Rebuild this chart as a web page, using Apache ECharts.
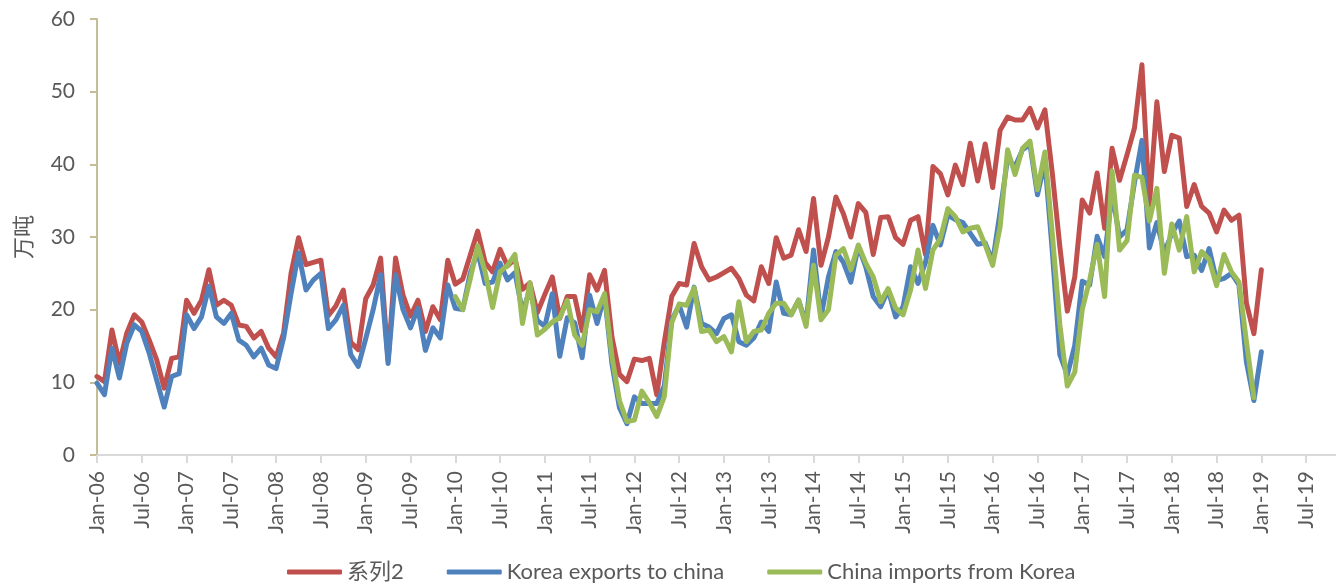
<!DOCTYPE html>
<html>
<head>
<meta charset="utf-8">
<script src="https://cdn.jsdelivr.net/npm/echarts@6/dist/echarts.min.js"></script>
<style>
  html, body { margin: 0; padding: 0; background: #fff; }
  #chart { width: 1336px; height: 586px; }
</style>
</head>
<body>
<div id="chart"></div>
<script>
// monthly axis, Jan-06 .. Nov-19
const monthNames = ['Jan', 'Feb', 'Mar', 'Apr', 'May', 'Jun', 'Jul', 'Aug', 'Sep', 'Oct', 'Nov', 'Dec']
const startYear = 2006
const monthCount = 167
const categories = []
for (let i = 0; i < monthCount; i++) {
  const yy = String((startYear + Math.floor(i / 12)) % 100).padStart(2, '0')
  categories.push(monthNames[i % 12] + '-' + yy)
}

const yTicks = [0, 10, 20, 30, 40, 50, 60]

// 系列2, Jan-06 .. Jan-19
const series2 = [
  10.8, 10.1, 17.2, 12.6, 16.8, 19.3, 18.3, 15.8, 13.1, 9.2, 13.3, 13.5,
  21.3, 19.5, 21.3, 25.5, 20.6, 21.3, 20.6, 17.9, 17.7, 16.1, 17.0, 14.7,
  13.5, 16.8, 25.0, 29.9, 26.2, 26.5, 26.8, 19.2, 20.5, 22.7, 15.5, 14.5,
  21.5, 23.4, 27.1, 13.0, 27.1, 22.0, 19.1, 21.3, 17.0, 20.4, 18.6, 26.8,
  23.5, 24.2, 27.5, 30.8, 26.5, 25.2, 28.3, 26.0, 27.0, 22.8, 23.7, 19.6,
  22.1, 24.5, 18.8, 21.8, 21.8, 17.1, 24.8, 22.7, 25.4, 16.2, 11.1, 10.1,
  13.2, 13.0, 13.3, 8.3, 15.5, 21.8, 23.6, 23.4, 29.1, 25.9, 24.1, 24.5,
  25.1, 25.7, 24.3, 22.0, 21.2, 25.9, 23.6, 29.9, 27.1, 27.5, 31.0, 28.0,
  35.3, 26.1, 30.0, 35.5, 33.2, 30.0, 34.6, 33.4, 27.6, 32.7, 32.8, 29.9,
  29.0, 32.3, 32.8, 27.6, 39.7, 38.7, 35.8, 39.9, 37.2, 42.9, 37.7, 42.8,
  36.8, 44.7, 46.5, 46.1, 46.1, 47.7, 45.0, 47.5, 38.7, 28.7, 19.8, 24.5,
  35.1, 33.3, 38.8, 31.2, 42.2, 37.8, 41.3, 45.0, 53.7, 34.4, 48.6, 39.0,
  44.0, 43.6, 34.2, 37.2, 34.2, 33.3, 30.7, 33.7, 32.3, 33.0, 20.9, 16.7,
  25.5
]

// Korea exports to china, Jan-06 .. Jan-19
const koreaExports = [
  9.9, 8.3, 14.7, 10.6, 15.4, 17.9, 17.0, 14.0, 10.3, 6.6, 10.8, 11.2,
  19.3, 17.4, 19.0, 23.2, 19.0, 18.1, 19.5, 15.8, 15.1, 13.5, 14.7, 12.4,
  11.9, 16.1, 22.2, 27.8, 22.7, 24.1, 25.0, 17.4, 18.6, 20.6, 13.8, 12.2,
  16.0, 20.0, 24.8, 12.6, 24.8, 20.0, 17.5, 20.2, 14.4, 17.5, 16.1, 23.4,
  20.2, 20.0, 25.0, 28.0, 23.6, 23.8, 26.4, 24.1, 25.1, 19.7, 22.7, 18.5,
  17.7, 22.2, 13.6, 18.9, 18.2, 13.4, 22.0, 18.1, 22.0, 12.5, 6.5, 4.3,
  8.0, 7.1, 7.1, 7.1, 9.5, 18.6, 20.6, 17.6, 23.1, 18.1, 17.6, 16.7,
  18.8, 19.3, 15.6, 15.1, 16.1, 18.3, 17.0, 23.8, 19.5, 19.3, 21.3, 18.1,
  28.2, 19.0, 24.5, 28.0, 26.5, 23.8, 28.7, 25.9, 21.8, 20.4, 22.7, 19.0,
  20.4, 25.9, 23.6, 26.5, 31.6, 28.9, 33.0, 32.4, 32.0, 30.5, 29.0, 29.2,
  26.6, 33.5, 40.8, 39.7, 42.0, 42.7, 35.8, 40.4, 27.9, 13.8, 11.0, 15.1,
  23.9, 23.4, 30.1, 27.3, 36.0, 30.0, 31.0, 37.5, 43.3, 28.5, 32.0, 27.8,
  30.5, 32.2, 27.3, 27.5, 25.4, 28.4, 24.0, 24.3, 25.0, 23.4, 12.8, 7.5,
  14.2
]

// China imports from Korea, Jan-10 .. Dec-18
const chinaImportsStart = 48
const chinaImports = [
  21.8, 20.0, 24.2, 28.8, 25.2, 20.3, 25.2, 26.1, 27.6, 18.1, 23.7, 16.5,
  17.3, 18.3, 18.9, 21.3, 16.5, 15.1, 20.0, 19.7, 22.2, 13.5, 7.5, 4.6,
  4.8, 8.8, 7.2, 5.3, 8.0, 18.2, 20.8, 20.6, 23.0, 17.0, 17.2, 15.6,
  16.3, 14.2, 21.1, 15.6, 17.0, 17.2, 19.5, 20.9, 20.9, 19.3, 21.3, 17.7,
  26.1, 18.6, 20.0, 27.5, 28.4, 25.5, 28.9, 26.4, 24.5, 21.1, 22.9, 20.2,
  19.3, 22.7, 28.2, 22.9, 28.2, 29.8, 33.9, 32.8, 30.7, 31.2, 31.4, 28.9,
  26.1, 31.4, 42.0, 38.6, 42.2, 43.2, 36.5, 41.7, 30.3, 18.0, 9.5, 11.4,
  20.0, 24.1, 29.0, 21.8, 39.1, 28.2, 29.5, 38.5, 38.2, 32.2, 36.7, 25.0,
  31.8, 28.2, 32.8, 25.2, 28.0, 26.9, 23.3, 27.6, 25.2, 23.8, 15.6, 7.9
]

const seriesNames = ['系列2', 'Korea exports to china', 'China imports from Korea']
const seriesColors = ['#C0504D', '#4F81BD', '#9BBB59']

const chinaImportsData = new Array(chinaImportsStart).fill(null).concat(chinaImports)

const font = 'Lato, "Noto Sans CJK SC", sans-serif'

const chart = echarts.init(document.getElementById('chart'))

chart.setOption({
  backgroundColor: '#FFFFFF',
  animation: false,
  textStyle: { fontFamily: font },
  grid: { left: 97, right: 0, top: 19, bottom: 131 },
  legend: {
    data: seriesNames,
    left: 282,
    top: 556,
    icon: 'roundRect',
    itemWidth: 55,
    itemHeight: 5,
    itemGap: 43,
    textStyle: { color: '#595959', fontSize: 22, fontFamily: font }
  },
  xAxis: {
    type: 'category',
    data: categories,
    boundaryGap: false,
    axisLine: { lineStyle: { color: '#D9D9D9', width: 2 } },
    axisTick: { interval: 5, length: 8, lineStyle: { color: '#D9D9D9', width: 2 } },
    axisLabel: {
      interval: 5,
      rotate: 90,
      margin: 16,
      color: '#595959',
      fontSize: 21,
      fontFamily: font
    },
    splitLine: { show: false }
  },
  yAxis: {
    type: 'value',
    min: yTicks[0],
    max: yTicks[yTicks.length - 1],
    interval: 10,
    name: '万吨',
    nameLocation: 'middle',
    nameGap: 62,
    nameTextStyle: { color: '#595959', fontSize: 22, fontFamily: font },
    axisLine: { show: true, lineStyle: { color: '#C4BD97', width: 2 } },
    axisTick: { show: true, length: 7, lineStyle: { color: '#C4BD97', width: 2 } },
    axisLabel: { margin: 22, color: '#595959', fontSize: 21, fontFamily: font },
    splitLine: { show: false }
  },
  series: [
    {
      name: seriesNames[0],
      type: 'line',
      data: series2,
      showSymbol: false,
      color: seriesColors[0],
      lineStyle: { width: 5, join: 'round', cap: 'round' }
    },
    {
      name: seriesNames[1],
      type: 'line',
      data: koreaExports,
      showSymbol: false,
      color: seriesColors[1],
      lineStyle: { width: 5, join: 'round', cap: 'round' }
    },
    {
      name: seriesNames[2],
      type: 'line',
      data: chinaImportsData,
      showSymbol: false,
      connectNulls: false,
      color: seriesColors[2],
      lineStyle: { width: 5, join: 'round', cap: 'round' }
    }
  ]
})
</script>
</body>
</html>
